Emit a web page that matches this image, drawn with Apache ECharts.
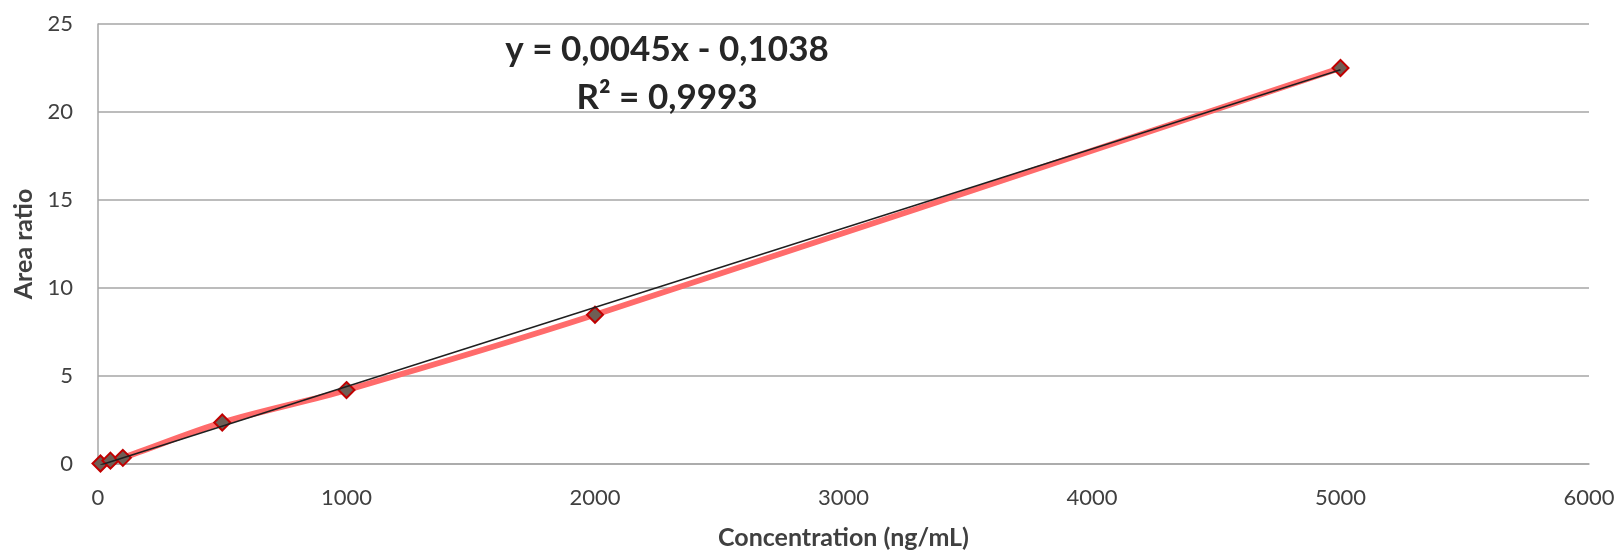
<!DOCTYPE html>
<html lang="en">

<head>
  <meta charset="UTF-8">
  <title>Calibration curve</title>
  <script src="https://cdn.jsdelivr.net/npm/echarts@6/dist/echarts.min.js"></script>
  <style>
    * {
      padding: 0;
      margin: 0;
    }

    #main {
      width: 1620px;
      height: 552px;
      background: #fff;
    }
  </style>
</head>

<body>
  <div id="main"></div>
  <script>
    // values
    var concentrations = [10, 50, 100, 500, 1000, 2000, 5000];
    var areaRatios = [0.03, 0.19, 0.35, 2.36, 4.2, 8.48, 22.5];
    // linear trendline printed on the chart
    var trendSlope = 0.0045;
    var trendIntercept = -0.1038;
    var equationLines = ['y = 0,0045x - 0,1038', 'R² = 0,9993'];

    var font = 'Lato';
    var textColor = '#404040';
    var gridColor = '#A6A6A6';

    var chartDom = document.getElementById('main');
    var myChart = echarts.init(chartDom);
    var option;

    var points = concentrations.map(function (c, i) {
      return [c, areaRatios[i]];
    });
    var xMin = Math.min.apply(null, concentrations);
    var xMax = Math.max.apply(null, concentrations);
    var trend = [xMin, xMax].map(function (c) {
      return [c, trendSlope * c + trendIntercept];
    });

    var nameStyle = {
      fontFamily: font,
      fontWeight: 'bold',
      fontSize: 25,
      color: textColor
    };

    option = {
      animation: false,
      textStyle: { fontFamily: font, fontSize: 22 },
      grid: {
        left: 98,
        right: 31,
        top: 24,
        bottom: 88,
        containLabel: false,
        outerBoundsMode: 'none'
      },
      xAxis: {
        type: 'value',
        min: 0,
        max: 6000,
        interval: 1000,
        name: 'Concentration (ng/mL)',
        nameLocation: 'middle',
        nameGap: 61,
        nameTextStyle: nameStyle,
        axisLine: { show: true, lineStyle: { color: gridColor, width: 1.5 } },
        axisTick: { show: false },
        axisLabel: {
          fontFamily: font,
          fontSize: 22,
          color: textColor,
          margin: 23,
          formatter: function (v) { return String(v); }
        },
        splitLine: { show: false }
      },
      yAxis: {
        type: 'value',
        min: 0,
        max: 25,
        interval: 5,
        name: 'Area ratio',
        nameLocation: 'middle',
        nameGap: 60,
        nameTextStyle: nameStyle,
        axisLine: { show: true, lineStyle: { color: gridColor, width: 1.5 } },
        axisTick: { show: false },
        axisLabel: {
          fontFamily: font,
          fontSize: 22,
          color: textColor,
          margin: 25
        },
        splitLine: { show: true, lineStyle: { color: gridColor, width: 1.5 } }
      },
      graphic: [
        {
          type: 'text',
          x: 667,
          y: 50,
          z: 100,
          style: {
            text: equationLines[0],
            align: 'center',
            verticalAlign: 'middle',
            fontFamily: font,
            fontWeight: 'bold',
            fontSize: 35,
            fill: '#262626'
          }
        },
        {
          type: 'text',
          x: 667,
          y: 98,
          z: 100,
          style: {
            text: equationLines[1],
            align: 'center',
            verticalAlign: 'middle',
            fontFamily: font,
            fontWeight: 'bold',
            fontSize: 35,
            fill: '#262626'
          }
        }
      ],
      series: [
        {
          name: 'Area ratio',
          type: 'line',
          smooth: 0.3,
          data: points,
          lineStyle: { color: '#FF6B6B', width: 6 },
          symbol: 'diamond',
          symbolSize: 16,
          itemStyle: {
            color: '#6E5E55',
            borderColor: '#C00000',
            borderWidth: 2
          },
          z: 2
        },
        {
          name: 'Linear trend',
          type: 'line',
          data: trend,
          symbol: 'none',
          lineStyle: { color: '#1F1F1F', width: 1.5 },
          z: 3
        }
      ]
    };

    option && myChart.setOption(option);
  </script>
</body>

</html>
